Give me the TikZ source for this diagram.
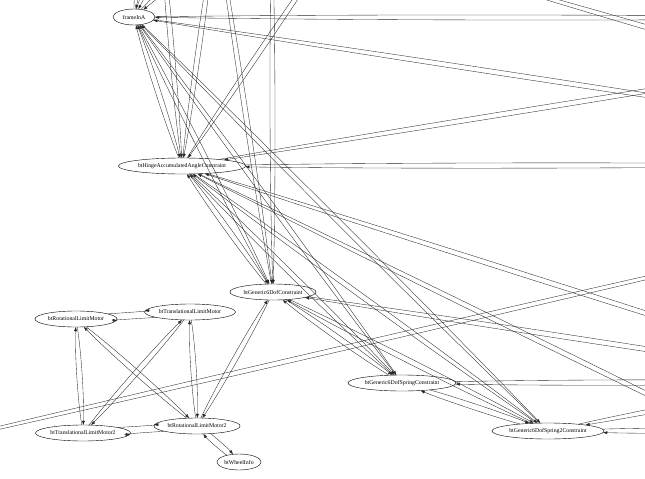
\documentclass[tikz,border=0pt]{standalone}
\usepackage{fontspec}
\setmainfont{Liberation Serif}
\usetikzlibrary{arrows.meta}
\usetikzlibrary{calc}
\usetikzlibrary{shapes.geometric}

\tikzset{
	box/.style={draw, ellipse, inner sep=1pt, minimum width=42pt, minimum height=16pt,
		line width=.4pt, font=\fontsize{5.8}{7}\selectfont},
	link/.style={-{Triangle[length=4pt,width=2.8pt]}, line width=.35pt, black!85,
		to path={.. controls ($(\tikztostart)!.3!(\tikztotarget)!3.3pt!90:(\tikztotarget)$)
			and ($(\tikztotarget)!.3!(\tikztostart)!3.3pt!-90:(\tikztostart)$) .. (\tikztotarget)}},
}

\begin{document}
\begin{tikzpicture}[x=1pt,y=-1pt]
	\useasboundingbox (0,0) rectangle (645,479);
	\clip (0,0) rectangle (645,479);

	\node [box] (frame) at (134,17) {frameInA};
	\node [box] (hinge) at (182,166) {btHingeAccumulatedAngleConstraint};
	\node [box] (dof) at (273,292) {btGeneric6DofConstraint};
	\node [box] (rotM) at (76,319) {btRotationalLimitMotor};
	\node [box] (transM) at (190,312) {btTranslationalLimitMotor};
	\node [box] (transM2) at (83,433) {btTranslationalLimitMotor2};
	\node [box] (rotM2) at (197,426) {btRotationalLimitMotor2};
	\node [box] (wheel) at (239,462) {btWheelInfo};
	\node [box] (spring) at (402,383) {btGeneric6DofSpringConstraint};
	\node [box] (spring2) at (548,431) {btGeneric6DofSpring2Constraint};

	% ends of the edges that leave the drawing
	\coordinate (topF1) at (145,-80);
	\coordinate (topF2) at (175,-80);
	\coordinate (topF3) at (240,-80);
	\coordinate (topH1) at (160,-80);
	\coordinate (topH2) at (349,-80);
	\coordinate (topH3) at (217,-80);
	\coordinate (topG1) at (272,-80);
	\coordinate (topG2) at (216,-80);
	\coordinate (rF1) at (900,18);
	\coordinate (rF2) at (900,134);
	\coordinate (rH1) at (900,50);
	\coordinate (rH2) at (900,165);
	\coordinate (rH3) at (900,394);
	\coordinate (rH4) at (900,518);
	\coordinate (rG) at (900,388);
	\coordinate (rS) at (900,382);
	\coordinate (rS2a) at (900,363);
	\coordinate (rS2b) at (900,430);
	\coordinate (lL) at (-200,474);
	\coordinate (lR) at (900,219);
	\coordinate (trA) at (450,-30);
	\coordinate (trB) at (900,101);

	% every edge comes in both directions
	\foreach \a/\b in {frame/hinge, frame/dof, frame/spring, frame/spring2,
		hinge/dof, hinge/spring, hinge/spring2, dof/spring, dof/spring2, dof/rotM2,
		spring/spring2, rotM/transM, rotM/transM2, rotM/rotM2, transM/transM2,
		transM/rotM2, transM2/rotM2, rotM2/wheel,
		frame/topF1, frame/topF2, frame/topF3, frame/rF1, frame/rF2,
		hinge/topH1, hinge/topH2, hinge/topH3, hinge/rH1, hinge/rH2, hinge/rH3, hinge/rH4,
		dof/topG1, dof/topG2, dof/rG, spring/rS, spring2/rS2a, spring2/rS2b,
		lL/lR, trA/trB}
	{
		\draw [link] (\a) to (\b);
		\draw [link] (\b) to (\a);
	}
\end{tikzpicture}
\end{document}
